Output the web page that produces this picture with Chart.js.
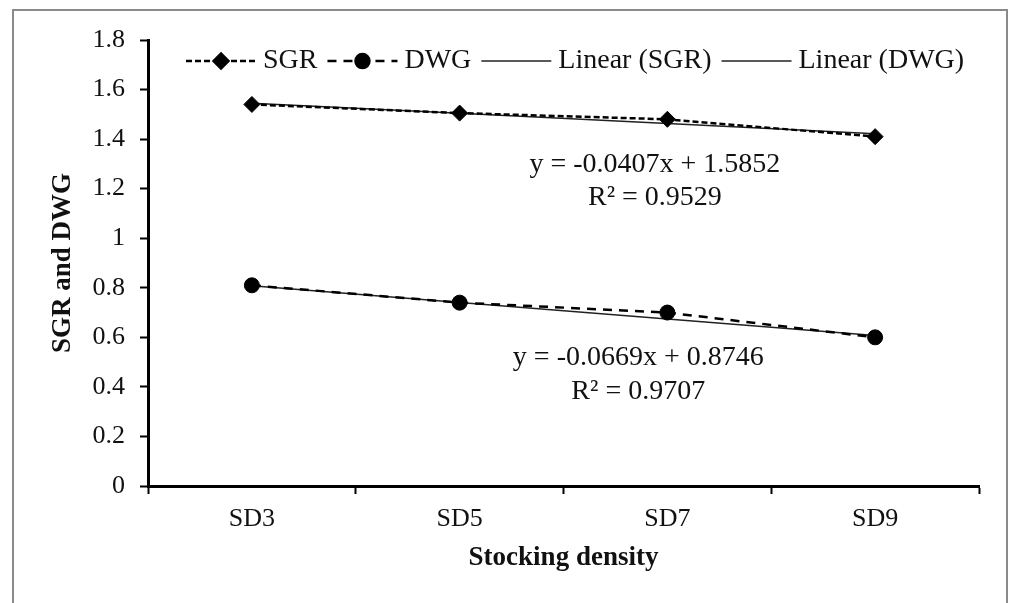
<!DOCTYPE html>
<html>
<head>
<meta charset="utf-8">
<title>SGR and DWG by stocking density</title>
<script src="https://cdn.jsdelivr.net/npm/chart.js@4/dist/chart.umd.min.js"></script>
<style>
  html, body { margin: 0; padding: 0; background: #fff; overflow: hidden; }
  #frame {
    position: absolute; left: 12px; top: 9px; width: 996px; height: 640px;
    border: 2px solid #8a8a8a; box-sizing: border-box;
  }
  #chart { position: absolute; left: 0; top: 0; }
</style>
</head>
<body>
<div id="frame"></div>
<canvas id="chart" width="1009" height="603"></canvas>
<script>
// data
const categories = ['SD3', 'SD5', 'SD7', 'SD9'];
const sgrValues  = [1.54, 1.505, 1.48, 1.41];
const dwgValues  = [0.81, 0.74, 0.70, 0.60];
const sgrTrend   = [1.545, 1.504, 1.463, 1.422];
const dwgTrend   = [0.808, 0.741, 0.674, 0.607];
const yTicks     = [0, 0.2, 0.4, 0.6, 0.8, 1, 1.2, 1.4, 1.6, 1.8];
const sgrEquation = ['y = -0.0407x + 1.5852', 'R\u00B2 = 0.9529'];
const dwgEquation = ['y = -0.0669x + 0.8746', 'R\u00B2 = 0.9707'];

const SERIF = '"Liberation Serif", "Times New Roman", serif';
const INK   = '#111';

// where the equation labels sit, in axis units (category index, y value)
const labelSpots = [
    { text: sgrEquation, x: 1.94, y: [1.295, 1.163] },
    { text: dwgEquation, x: 1.86, y: [0.517, 0.380] },
];

const equationLabels = {
    id: 'equationLabels',
    afterDatasetsDraw(chart) {
        const ctx = chart.ctx;
        const xs = chart.scales.x, ys = chart.scales.y;
        ctx.save();
        ctx.font = '28px ' + SERIF;
        ctx.fillStyle = INK;
        ctx.textAlign = 'center';
        ctx.textBaseline = 'middle';
        labelSpots.forEach(s => {
            s.text.forEach((t, i) => {
                ctx.fillText(t, xs.getPixelForValue(s.x), ys.getPixelForValue(s.y[i]));
            });
        });
        ctx.restore();
    }
};

// excel-like legend laid over the top of the plot
const lineLegend = {
    id: 'lineLegend',
    afterDraw(chart) {
        const ctx = chart.ctx;
        const y = chart.scales.y.getPixelForValue(1.715);
        let x = chart.chartArea.left + 38;
        ctx.save();
        ctx.font = '28px ' + SERIF;
        ctx.textBaseline = 'middle';
        chart.data.datasets.forEach(ds => {
            const seg = 70;
            ctx.strokeStyle = ds.borderColor;
            ctx.lineWidth = ds.borderWidth;
            ctx.setLineDash(ds.borderDash || []);
            ctx.beginPath();
            ctx.moveTo(x, y);
            ctx.lineTo(x + seg, y);
            ctx.stroke();
            ctx.setLineDash([]);
            if (ds.pointRadius > 0) {
                ctx.fillStyle = ds.pointBackgroundColor;
                ctx.strokeStyle = ds.pointBackgroundColor;
                Chart.helpers.drawPoint(ctx, {
                    pointStyle: ds.pointStyle, radius: ds.pointRadius - 0.5,
                    borderWidth: 1, rotation: 0
                }, x + seg / 2, y);
            }
            x += seg + 7;
            ctx.fillStyle = INK;
            ctx.fillText(ds.label, x, y);
            x += ctx.measureText(ds.label).width + 10;
        });
        ctx.restore();
    }
};

const tickFont  = { family: SERIF, size: 26 };
const titleFont = { family: SERIF, size: 27, weight: 'bold' };

new Chart(document.getElementById('chart'), {
    type: 'line',
    data: {
        labels: categories,
        datasets: [
            {
                label: 'SGR', data: sgrValues,
                borderColor: '#000', borderWidth: 2.5, borderDash: [6, 3],
                pointStyle: 'rectRot', pointRadius: 8,
                pointBackgroundColor: '#000', pointBorderColor: '#000', pointBorderWidth: 1,
                tension: 0
            },
            {
                label: 'DWG', data: dwgValues,
                borderColor: '#000', borderWidth: 2.5, borderDash: [9, 7],
                pointStyle: 'circle', pointRadius: 7.5,
                pointBackgroundColor: '#000', pointBorderColor: '#000', pointBorderWidth: 1,
                tension: 0
            },
            {
                label: 'Linear (SGR)', data: sgrTrend,
                borderColor: '#222', borderWidth: 1.5, pointRadius: 0, tension: 0
            },
            {
                label: 'Linear (DWG)', data: dwgTrend,
                borderColor: '#222', borderWidth: 1.5, pointRadius: 0, tension: 0
            }
        ]
    },
    options: {
        responsive: false,
        animation: false,
        layout: { padding: { left: 0, top: 40, right: 30, bottom: 0 } },
        plugins: {
            legend: { display: false },
            tooltip: { enabled: false }
        },
        scales: {
            x: {
                offset: true,
                grid: {
                    offset: true, drawOnChartArea: false, drawTicks: true,
                    tickLength: 8, tickWidth: 2, tickColor: '#000'
                },
                border: { display: true, color: '#000', width: 3 },
                ticks: { font: tickFont, color: INK, padding: 10 },
                title: {
                    display: true, text: 'Stocking density', font: titleFont, color: INK,
                    padding: { top: 0, bottom: 29 }
                },
                afterFit: s => { s.height = 117; }
            },
            y: {
                min: 0, max: 1.8,
                afterBuildTicks: s => { s.ticks = yTicks.map(v => ({ value: v })); },
                grid: {
                    drawOnChartArea: false, drawTicks: true,
                    tickLength: 8, tickWidth: 2, tickColor: '#000'
                },
                border: { display: true, color: '#000', width: 3 },
                ticks: {
                    font: tickFont, color: INK, padding: 15,
                    callback: v => String(+v.toFixed(1))
                },
                title: {
                    display: true, text: 'SGR and DWG', font: titleFont, color: INK,
                    padding: { top: 47, bottom: 0 }
                },
                afterFit: s => { s.width = 148; }
            }
        }
    },
    plugins: [equationLabels, lineLegend]
});
</script>
</body>
</html>
